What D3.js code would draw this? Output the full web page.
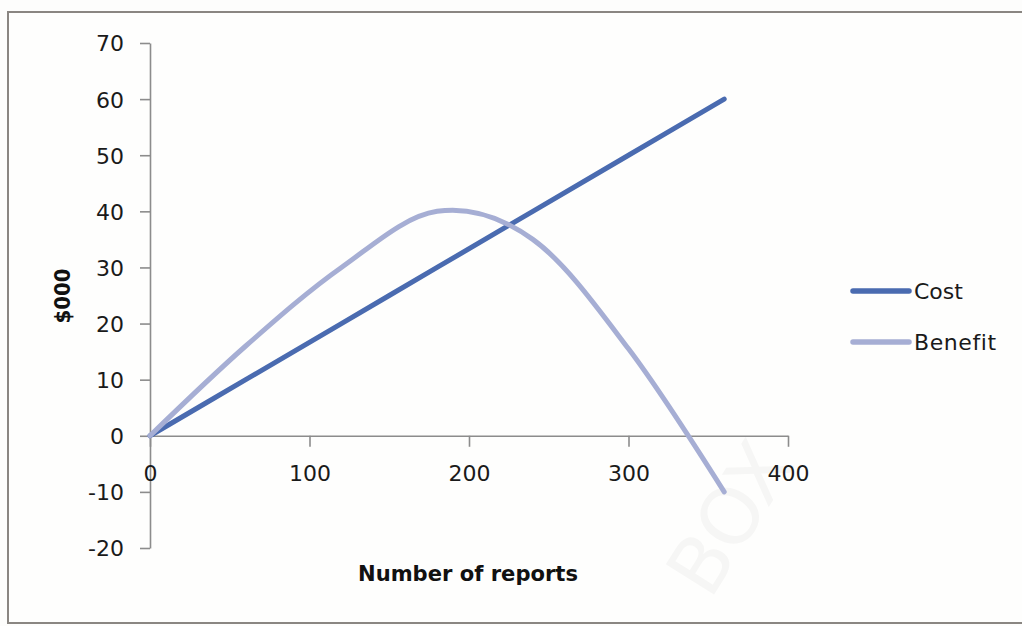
<!DOCTYPE html>
<html lang="en">
<head>
	<meta charset="UTF-8">
	<title>Cost and Benefit</title>
	<script src="https://d3js.org/d3.v7.min.js"></script>
	<style>
		* {
			margin: 0px;
			padding: 0px;
		}
		body { background: #fdfdfc; }
	</style>
</head>
<body>
	<svg width="1022" height="626"></svg>
	<script>
		// data
		var reports = [0, 60, 120, 180, 240, 300, 360];
		var cost = [0, 10, 20, 30, 40, 50, 60];
		var benefit = [0, 16, 30, 40, 35, 15.5, -10];
		var xTicks = [0, 100, 200, 300, 400];
		var yTicks = [-20, -10, 0, 10, 20, 30, 40, 50, 60, 70];
		var seriesNames = ["Cost", "Benefit"];
		var seriesColors = ["#4a6bb0", "#a6aed4"];

		var svg = d3.select("svg");
		var font = "DejaVu Sans, Verdana, sans-serif";

		// outer chart border
		svg.append("rect")
			.attr("x", 8).attr("y", 12)
			.attr("width", 1030).attr("height", 611)
			.attr("fill", "#fefefd")
			.attr("stroke", "#8a8682")
			.attr("stroke-width", 2);

		// faint watermark
		svg.append("text")
			.attr("transform", "translate(730,518) rotate(-58)")
			.attr("text-anchor", "middle")
			.attr("dominant-baseline", "central")
			.attr("font-family", font)
			.attr("font-size", 78)
			.attr("fill", "#f6f6f5")
			.text("BOX");

		var x = d3.scaleLinear().domain([0, 400]).range([150, 788]);
		var y = d3.scaleLinear().domain([-20, 70]).range([548, 43]);
		var fmt = function (d) { return String(d); };

		// y axis
		var yAxis = svg.append("g")
			.attr("transform", "translate(" + x(0) + ",0)")
			.call(d3.axisLeft(y).tickValues(yTicks).tickFormat(fmt).tickSize(10).tickPadding(16).tickSizeOuter(0));

		// x axis sits on the zero line
		var xAxis = svg.append("g")
			.attr("transform", "translate(0," + y(0) + ")")
			.call(d3.axisBottom(x).tickValues(xTicks).tickFormat(fmt).tickSize(11).tickPadding(19).tickSizeOuter(0));

		[yAxis, xAxis].forEach(function (g) {
			g.selectAll("path, line").attr("stroke", "#8c8c8c").attr("stroke-width", 1.6);
			g.selectAll("text")
				.attr("font-family", font)
				.attr("font-size", 22)
				.attr("fill", "#1a1a1a");
		});
		yAxis.selectAll("text").attr("dy", "0.36em");

		// series lines, smoothed like the spreadsheet does
		var line = d3.line()
			.x(function (d) { return x(d[0]); })
			.y(function (d) { return y(d[1]); })
			.curve(d3.curveCardinal.tension(0));

		var series = [cost, benefit];
		series.forEach(function (vals, i) {
			svg.append("path")
				.datum(reports.map(function (r, j) { return [r, vals[j]]; }))
				.attr("fill", "none")
				.attr("stroke", seriesColors[i])
				.attr("stroke-width", 5)
				.attr("stroke-linecap", "round")
				.attr("d", line);
		});

		// axis titles
		svg.append("text")
			.attr("x", 468).attr("y", 581)
			.attr("text-anchor", "middle")
			.attr("font-family", "DejaVu Sans Condensed, DejaVu Sans, sans-serif")
			.attr("font-weight", "bold")
			.attr("font-size", 22)
			.attr("textLength", 220)
			.attr("lengthAdjust", "spacingAndGlyphs")
			.attr("fill", "#111")
			.text("Number of reports");

		svg.append("text")
			.attr("transform", "translate(70,296) rotate(-90)")
			.attr("text-anchor", "middle")
			.attr("font-family", "DejaVu Sans Condensed, DejaVu Sans, sans-serif")
			.attr("font-weight", "bold")
			.attr("font-size", 22)
			.attr("fill", "#111")
			.text("$000");

		// legend
		var legend = svg.append("g");
		seriesNames.forEach(function (name, i) {
			var ly = 291 + i * 51;
			legend.append("line")
				.attr("x1", 853).attr("x2", 909)
				.attr("y1", ly).attr("y2", ly)
				.attr("stroke", seriesColors[i])
				.attr("stroke-width", 5.5)
				.attr("stroke-linecap", "round");
			legend.append("text")
				.attr("x", 914).attr("y", ly)
				.attr("dy", "0.36em")
				.attr("font-family", font)
				.attr("font-size", 22)
				.attr("letter-spacing", i == 1 ? 0.6 : 0)
				.attr("fill", "#1a1a1a")
				.text(name);
		});
	</script>
</body>
</html>
